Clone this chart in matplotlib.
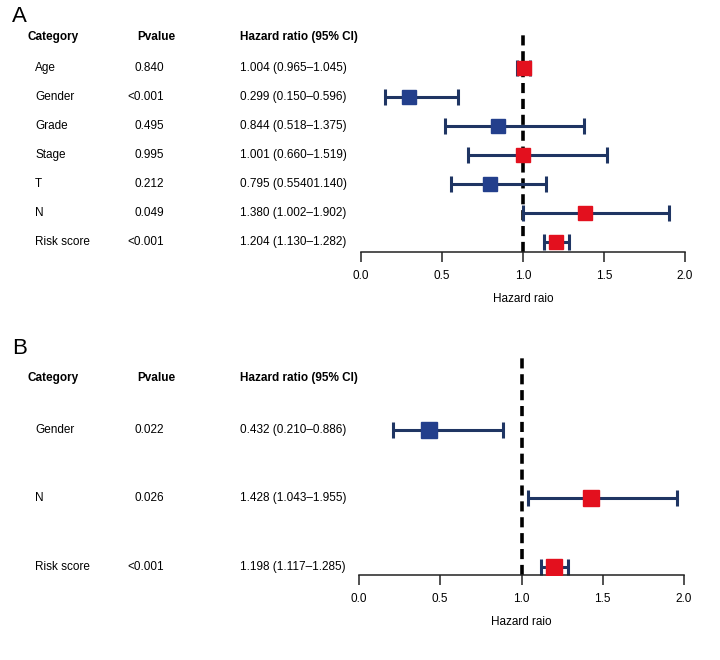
import matplotlib
matplotlib.use("Agg")
import matplotlib.pyplot as plt
from matplotlib.transforms import blended_transform_factory

plt.rcParams['font.family'] = ['Liberation Sans Narrow', 'Liberation Sans', 'DejaVu Sans']

# Panel A: univariate
cat_a = ['Age', 'Gender', 'Grade', 'Stage', 'T', 'N', 'Risk score']
p_a = ['0.840', '<0.001', '0.495', '0.995', '0.212', '0.049', '<0.001']
hr_a = [1.004, 0.299, 0.844, 1.001, 0.795, 1.380, 1.204]
lo_a = [0.965, 0.150, 0.518, 0.660, 0.554, 1.002, 1.130]
hi_a = [1.045, 0.596, 1.375, 1.519, 1.140, 1.902, 1.282]
txt_a = ['1.004 (0.965\u20131.045)', '0.299 (0.150\u20130.596)', '0.844 (0.518\u20131.375)',
         '1.001 (0.660\u20131.519)', '0.795 (0.55401.140)', '1.380 (1.002\u20131.902)',
         '1.204 (1.130\u20131.282)']

# Panel B: multivariate
cat_b = ['Gender', 'N', 'Risk score']
p_b = ['0.022', '0.026', '<0.001']
hr_b = [0.432, 1.428, 1.198]
lo_b = [0.210, 1.043, 1.117]
hi_b = [0.886, 1.955, 1.285]
txt_b = ['0.432 (0.210\u20130.886)', '1.428 (1.043\u20131.955)', '1.198 (1.117\u20131.285)']

RED = '#E3101E'
BLUE = '#233F8C'
BAR = '#1F3563'
FS = 8.5

fig = plt.figure(figsize=(7.2, 6.6), dpi=100)


def forest(ax, cats, pvals, hr, lo, hi, txts, ylim, header_y, msize, label, label_y):
    n = len(cats)
    ys = list(range(n))
    ax.axvline(1.0, color='black', lw=2.6, linestyle=(0, (2.8, 1.6)), zorder=1)
    for i in ys:
        col = RED if hr[i] > 1 else BLUE
        ax.errorbar(hr[i], i, xerr=[[hr[i] - lo[i]], [hi[i] - hr[i]]],
                    fmt='none', ecolor=BAR, elinewidth=2.2, capsize=6, capthick=2.2, zorder=2)
        ax.plot(hr[i], i, marker='s', ms=msize, color=col, mec=col, zorder=3)
    ax.set_xlim(0, 2)
    ax.set_ylim(*ylim)
    for s in ['top', 'right', 'left']:
        ax.spines[s].set_visible(False)
    ax.spines['bottom'].set_linewidth(1.1)
    ax.spines['bottom'].set_color('#222222')
    ax.set_yticks([])
    ax.set_xticks([0, 0.5, 1.0, 1.5, 2.0])
    ax.set_xticklabels(['0.0', '0.5', '1.0', '1.5', '2.0'], fontsize=FS)
    ax.tick_params(axis='x', direction='out', length=7, width=1.1, color='#222222', pad=6)
    ax.set_xlabel('Hazard raio', fontsize=FS, labelpad=8)

    tr = blended_transform_factory(fig.transFigure, ax.transData)
    fig.text(27 / 720, header_y, 'Category', transform=tr, fontsize=FS, fontweight='bold', va='center')
    fig.text(137 / 720, header_y, 'Pvalue', transform=tr, fontsize=FS, fontweight='bold', va='center')
    fig.text(240 / 720, header_y, 'Hazard ratio (95% CI)', transform=tr, fontsize=FS,
             fontweight='bold', va='center')
    for i in ys:
        fig.text(35 / 720, i, cats[i], transform=tr, fontsize=FS, va='center')
        fig.text(164 / 720, i, pvals[i], transform=tr, fontsize=FS, va='center', ha='right')
        fig.text(240 / 720, i, txts[i], transform=tr, fontsize=FS, va='center')
    fig.text(12 / 720, label_y, label, fontsize=16, va='center')


ax_a = fig.add_axes([361 / 720, 1 - 252 / 660, 324 / 720, 220 / 660])
forest(ax_a, cat_a, p_a, hr_a, lo_a, hi_a, txt_a, (6.345, -1.24), -1.07, 10, 'A', 1 - 16 / 660)

ax_b = fig.add_axes([359 / 720, 1 - 575 / 660, 325 / 720, 220 / 660])
forest(ax_b, cat_b, p_b, hr_b, lo_b, hi_b, txt_b, (2.117, -1.095), -0.76, 12, 'B', 1 - 349 / 660)

fig.savefig('out.png', dpi=100)
